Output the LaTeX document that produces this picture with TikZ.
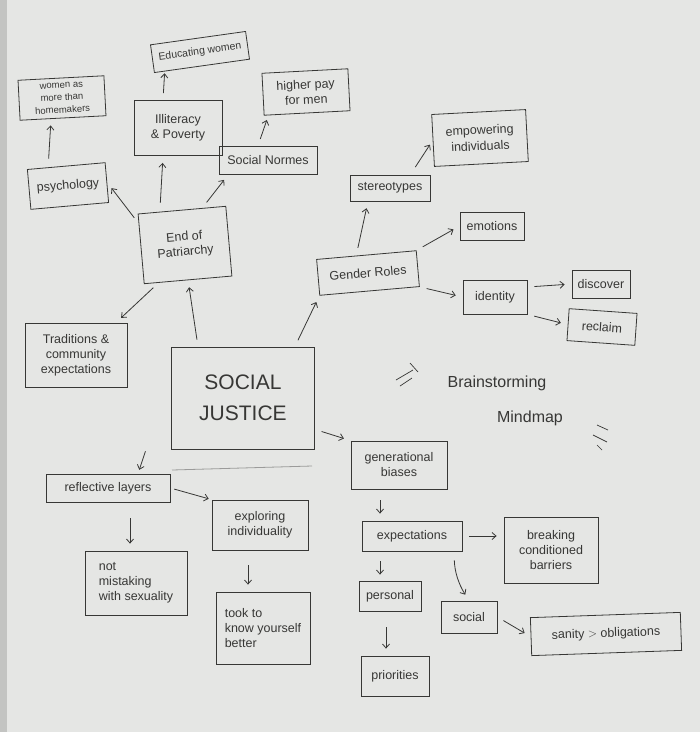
\documentclass[tikz,border=0pt]{standalone}
\usepackage{fontspec}
\setmainfont{Liberation Sans}
\usetikzlibrary{arrows.meta}

\definecolor{paper}{RGB}{229,230,228}
\definecolor{ink}{RGB}{55,55,53}

\begin{document}
\begin{tikzpicture}[
    x=1pt, y=-1pt,
    box/.style={draw=ink, line width=0.8pt, align=center, inner sep=3pt,
        text=ink, font=\fontsize{12.5}{15}\selectfont},
    arrow/.style={-{Straight Barb[length=4pt, width=7pt]}, ink, line width=0.8pt,
        shorten >=7pt, shorten <=7pt},
    title/.style={text=ink, font=\fontsize{16}{19}\selectfont}
]

    % --- Paper ---
    \fill[paper] (0,0) rectangle (700,732);
    \fill[paper!85!black] (0,0) rectangle (7,732);
    \useasboundingbox (0,0) rectangle (700,732);

    % --- Centre ---
    \node[box, minimum width=143, minimum height=102,
        font=\fontsize{21}{31}\selectfont] (justice) at (243,398) {SOCIAL\\JUSTICE};
    \draw[ink!50, line width=0.8pt] (172,470) -- (312,466);

    % --- Patriarchy Branch ---
    \node[box, minimum width=88, minimum height=70, rotate=5] (patriarchy) at (185,245) {End of\\Patriarchy};
    \node[box, minimum width=78, minimum height=40, rotate=5] (psychology) at (68,186) {psychology};
    \node[box, minimum width=86, minimum height=40, rotate=3,
        font=\fontsize{9.5}{12.5}\selectfont] (homemakers) at (62,98) {women as\\more than\\homemakers};
    \node[box, minimum width=88, minimum height=55] (illiteracy) at (178,128) {Illiteracy\\\& Poverty};
    \node[box, minimum width=96, minimum height=28, rotate=8,
        font=\fontsize{10.5}{12}\selectfont] (educating) at (200,52) {Educating women};
    \node[box, minimum width=98, minimum height=28] (normes) at (268,160) {Social Normes};
    \node[box, minimum width=86, minimum height=42, rotate=3] (pay) at (306,92) {higher pay\\for men};
    \node[box, minimum width=102, minimum height=64] (traditions) at (76,355) {Traditions \&\\community\\expectations};

    % --- Gender Branch ---
    \node[box, minimum width=100, minimum height=36, rotate=5] (gender) at (368,273) {Gender Roles};
    \node[box, minimum width=80, minimum height=26] (stereotypes) at (390,188) {stereotypes};
    \node[box, minimum width=94, minimum height=52, rotate=3,
        font=\fontsize{12.5}{16}\selectfont] (empowering) at (480,138) {empowering\\individuals};
    \node[box, minimum width=64, minimum height=28] (emotions) at (492,226) {emotions};
    \node[box, minimum width=64, minimum height=34] (identity) at (495,297) {identity};
    \node[box, minimum width=58, minimum height=28] (discover) at (601,284) {discover};
    \node[box, minimum width=68, minimum height=32, rotate=-4] (reclaim) at (602,327) {reclaim};

    % --- Generational Branch ---
    \node[box, minimum width=96, minimum height=48] (biases) at (399,465) {generational\\biases};
    \node[box, minimum width=100, minimum height=30] (expectations) at (412,536) {expectations};
    \node[box, minimum width=94, minimum height=66] (breaking) at (551,550) {breaking\\conditioned\\barriers};
    \node[box, minimum width=62, minimum height=30] (personal) at (390,596) {personal};
    \node[box, minimum width=56, minimum height=32] (social) at (469,617) {social};
    \node[box, minimum width=150, minimum height=38, rotate=2] (sanity) at (606,634) {sanity $>$ obligations};
    \node[box, minimum width=68, minimum height=40] (priorities) at (395,676) {priorities};

    % --- Reflective Branch ---
    \node[box, minimum width=124, minimum height=28] (reflective) at (108,488) {reflective layers};
    \node[box, minimum width=96, minimum height=50] (exploring) at (260,525) {exploring\\individuality};
    \node[box, minimum width=102, minimum height=64, align=left] (mistaking) at (136,583) {not\\mistaking\\with sexuality};
    \node[box, minimum width=94, minimum height=72, align=left] (knowing) at (263,628) {took to\\know yourself\\better};

    % --- Title ---
    \node[title] (brain) at (497,383) {Brainstorming};
    \node[title] (mindmap) at (530,418) {Mindmap};
    \draw[ink, line width=0.7pt] (396,380) -- (413,370) (400,386) -- (412,378) (410,363) -- (418,372);
    \draw[ink, line width=0.7pt] (597,425) -- (608,430) (593,435) -- (607,442) (597,445) -- (602,450);

    % --- Arrows: patriarchy ---
    \draw[arrow] (justice.north) ++(-45,0) -- (patriarchy.south);
    \draw[arrow] ([xshift=-22pt]patriarchy.north) -- ([xshift=-15pt]illiteracy.south);
    \draw[arrow] ([xshift=-15pt]illiteracy.north) -- ([xshift=-37pt]educating.south);
    \draw[arrow] (patriarchy.60) -- (normes.200);
    \draw[arrow] ([xshift=-10pt]normes.north) -- ([xshift=-38pt]pay.south);
    \draw[arrow] (patriarchy.150) -- (psychology.east);
    \draw[arrow] ([xshift=-18pt]psychology.north) -- ([xshift=-12pt]homemakers.south);
    \draw[arrow] (patriarchy.230) -- ([xshift=40pt]traditions.north);

    % --- Arrows: gender ---
    \draw[arrow] ([xshift=-20pt]justice.north east) -- (gender.south west);
    \draw[arrow] ([xshift=-10pt]gender.north) -- ([xshift=-22pt]stereotypes.south);
    \draw[arrow, shorten <=9pt, shorten >=5pt] ([xshift=-20pt]stereotypes.north east) -- (empowering.west);
    \draw[arrow] (gender.north east) -- (emotions.west);
    \draw[arrow] (gender.south east) -- (identity.west);
    \draw[arrow] ([yshift=10pt]identity.east) -- (discover.west);
    \draw[arrow] (identity.south east) -- (reclaim.west);

    % --- Arrows: generational ---
    \draw[arrow] ([yshift=20pt]justice.south east) -- (biases.north west);
    \draw[arrow, shorten <=11pt] ([xshift=-19pt]biases.south) -- ([xshift=-32pt]expectations.north);
    \draw[arrow] (expectations.east) -- (expectations.east -| breaking.west);
    \draw[arrow, shorten <=10pt, shorten >=6pt] ([xshift=-32pt]expectations.south) -- ([xshift=-10pt]personal.north);
    \draw[arrow, shorten <=9pt] ([xshift=42pt]expectations.south) to[bend right=15] (social.north);
    \draw[arrow, shorten <=16pt] ([xshift=-4pt]personal.south) -- ([xshift=-9pt]priorities.north);
    \draw[arrow] (social.east) -- (sanity.west);

    % --- Arrows: reflective ---
    \draw[arrow, shorten <=2pt, shorten >=4pt] ([xshift=-25pt]justice.south west) -- ([xshift=30pt]reflective.north);
    \draw[arrow, shorten <=4pt, shorten >=3pt] (reflective.east) -- (exploring.north west);
    \draw[arrow, shorten <=16pt] ([xshift=22pt]reflective.south) -- ([xshift=-6pt]mistaking.north);
    \draw[arrow, shorten <=15pt] ([xshift=-12pt]exploring.south) -- ([xshift=-15pt]knowing.north);

\end{tikzpicture}
\end{document}
